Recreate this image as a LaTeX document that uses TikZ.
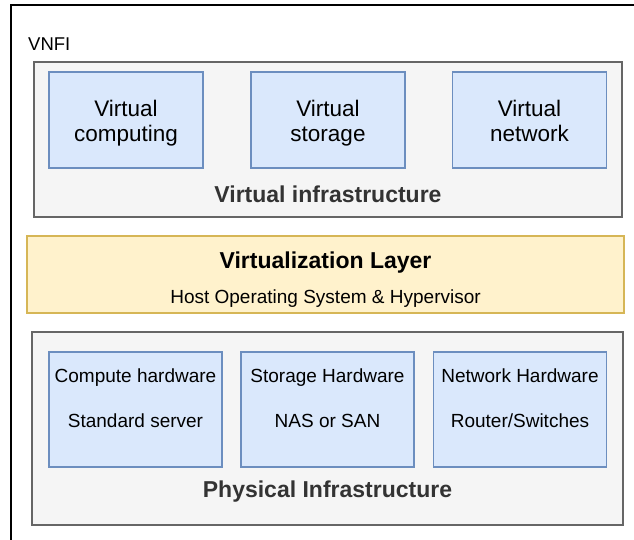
\documentclass[tikz,border=0pt]{standalone}
\usepackage{fontspec}
\setmainfont{Liberation Sans}
\definecolor{grayfill}{HTML}{F5F5F5}
\definecolor{grayline}{HTML}{666666}
\definecolor{bluefill}{HTML}{DAE8FC}
\definecolor{blueline}{HTML}{6C8EBF}
\definecolor{layerfill}{HTML}{FFF2CC}
\definecolor{layerline}{HTML}{D6B656}
\definecolor{titlegray}{HTML}{333333}

\begin{document}
\begin{tikzpicture} [x=1pt, y=-1pt,
 every node/.style = {inner sep=0pt, align=center},
 group/.style = {draw=grayline, fill=grayfill, line width=1.5pt},
 vbox/.style = {draw=blueline, fill=bluefill, line width=1.2pt, minimum width=154pt, minimum height=96pt},
 hwbox/.style = {draw=blueline, fill=bluefill, line width=1.2pt, minimum width=173pt, minimum height=115pt},
 vtext/.style = {anchor=base, font=\fontsize{22.5}{25}\selectfont},
 hwtext/.style = {anchor=base, font=\fontsize{19}{22}\selectfont},
 title/.style = {anchor=base, font=\bfseries\fontsize{23}{27}\selectfont, text=titlegray}]
 \useasboundingbox (0,0) rectangle (634,540);
 \clip (0,0) rectangle (634,540);
 \draw [line width=1.5pt] (11,5) rectangle (660,580);
 \node [anchor=base west, font=\fontsize{18.5}{21}\selectfont] (vnfi) at (28,51) {VNFI};

 \node [group, minimum width=588pt, minimum height=155pt] (virt) at (328,139.5) {};
 \node [vbox] (vc) at (126,120) {};
 \node [vbox] (vs) at (328,120) {};
 \node [vbox] (vn) at (529.5,120) {};
 % base of the last line
 \node [vtext] (vc-t) at (126,142) {Virtual\\computing};
 \node [vtext] (vs-t) at (328,142) {Virtual\\storage};
 \node [vtext] (vn-t) at (529.5,142) {Virtual\\network};
 \node [title] (virt-t) at (328,202) {Virtual infrastructure};

 \node [draw=layerline, fill=layerfill, line width=1.5pt, minimum width=597pt, minimum height=77pt] (layer) at (325.5,274.5) {};
 \node [title, text=black] (layer-t) at (325.5,268) {Virtualization Layer};
 \node [hwtext] (layer-s) at (325.5,303) {Host Operating System \& Hypervisor};

 \node [group, minimum width=591pt, minimum height=193pt] (phys) at (327.5,428.5) {};
 \node [hwbox] (ch) at (135.5,409.5) {};
 \node [hwbox] (sh) at (327.5,409.5) {};
 \node [hwbox] (nh) at (520,409.5) {};
 \node [hwtext] (ch-a) at (135.5,382) {Compute hardware};
 \node [hwtext] (ch-b) at (135.5,427) {Standard server};
 \node [hwtext] (sh-a) at (327.5,382) {Storage Hardware};
 \node [hwtext] (sh-b) at (327.5,427) {NAS or SAN};
 \node [hwtext] (nh-a) at (520,382) {Network Hardware};
 \node [hwtext] (nh-b) at (520,427) {Router/Switches};
 \node [title] (phys-t) at (327.5,497) {Physical Infrastructure};
\end{tikzpicture}
\end{document}
